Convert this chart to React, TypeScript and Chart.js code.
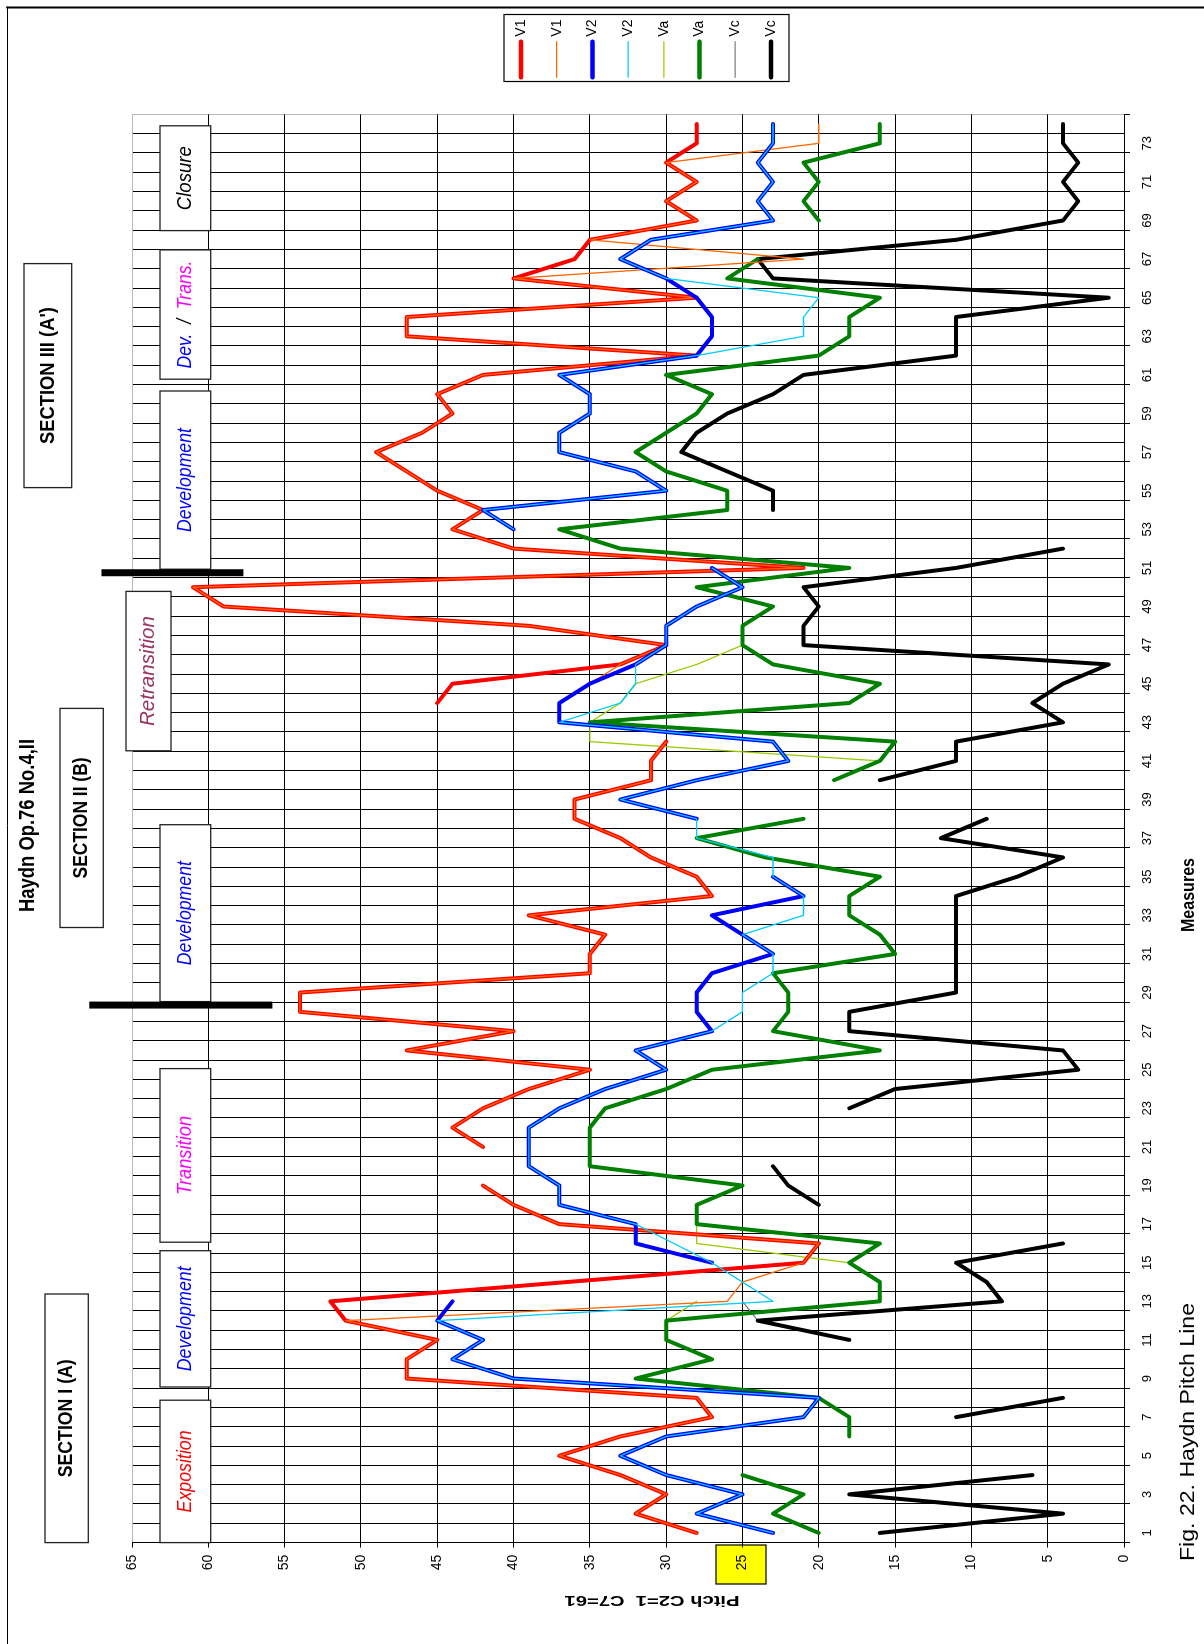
import React, { useEffect, useRef } from 'react';
import { Chart, registerables } from 'chart.js';

Chart.register(...registerables);

// ---------------- data ----------------
const measureLabels = [
  '1','2','3','4','5','6','7','8','9','10',
  '11','12','13','14','15','16','17','18','19','20',
  '21','22','23','24','25','26','27','28','29','30',
  '31','32','33','34','35','36','37','38','39','40',
  '41','42','43','44','45','46','47','48','49','50',
  '51','52','53','54','55','56','57','58','59','60',
  '61','62','63','64','65','66','67','68','69','70',
  '71','72','73','74'
];

const pitchMin = 0;
const pitchMax = 65;
const pitchStep = 5;

const v1Main = [
  28,32,30,33,37,33,27,28,47,47,
  45,51,52,36.5,21,20,37,40,42,null,
  42,44,42,39,35,47,40,54,54,35,
  35,34,39,27,28,31,33,36,36,31,
  31,30,null,45,44,33,30,39,59,61,
  21,40,44,42,45,47,49,46,44,45,
  42,28,47,47,28,40,36,35,28,30,
  28,30,28,28
];
const v1Alt = [
  28,32,30,33,37,33,27,28,47,47,
  45,51,26,25,21,20,37,40,42,null,
  42,44,42,39,35,47,40,54,54,35,
  35,34,39,27,28,31,33,36,36,31,
  31,30,null,37,35,33,30,39,59,61,
  21,40,44,42,45,47,49,46,44,45,
  42,28,47,47,28,40,21,35,28,30,
  28,30,20,20
];
const v2Main = [
  23,28,25,30,33,30,21,20,40,44,
  42,45,44,null,27,32,32,37,37,39,
  39,39,37,34,30,32,27,28,28,27,
  23,25,27,21,23,null,null,28,33,28,
  22,23,37,37,35,32,30,30,28,25,
  27,null,40,42,30,32,37,37,35,35,
  37,28,27,27,28,30,33,31,23,24,
  23,24,23,23
];
const v2Alt = [
  23,28,25,30,33,30,21,20,40,44,
  42,45,23,25,27,29.5,32,37,37,39,
  39,39,37,34,30,32,27,25,25,23,
  23,25,21,21,23,23,28,28,33,28,
  22,23,37,33,32,32,30,30,28,25,
  27,null,40,42,30,32,37,37,35,35,
  37,28,21,21,20,30,33,31,23,24,
  23,24,23,23
];
const vaMain = [
  20,23,21,25,null,18,18,20,32,27,
  30,30,16,16,18,16,28,28,25,35,
  35,35,34,30,27,16,23,22,22,23,
  15,16,18,18,16,23.5,28,21,null,19,
  16,15,35,18,16,23,25,25,23,28,
  18,33,37,26,26,30,32,30,28,27,
  30,20,18,18,16,26,24,null,20,21,
  20,21,16,16
];
const vaAlt = [
  20,23,21,25,null,18,18,20,32,27,
  30,30,28,null,18,28,28,28,25,35,
  35,35,34,30,27,16,23,22,22,23,
  15,16,18,18,16,23.5,28,21,null,19,
  16,35,35,33,32,28,25,25,23,28,
  18,33,37,26,26,30,32,30,28,27,
  30,20,18,18,16,26,24,null,20,21,
  20,21,16,16
];
const vcMain = [
  16,4,18,6,null,null,11,4,null,null,
  18,24,8,9,11,4,null,20,22,23,
  null,null,18,15,3,4,18,18,11,11,
  11,11,11,11,7,4,12,9,null,16,
  11,11,4,6,4,1,21,21,20,21,
  11,4,null,23,23,26,29,28,26,23,
  21,11,11,11,1,23,24,11,4,3,
  4,3,4,4
];
const vcAlt = [
  16,4,18,6,null,null,11,4,null,null,
  18,24,25,null,11,4,null,20,22,23,
  null,null,18,15,3,4,18,18,11,11,
  11,11,11,11,7,4,12,9,null,16,
  11,11,4,6,4,1,21,21,20,21,
  11,4,null,23,23,26,29,28,26,23,
  21,11,11,11,1,23,24,11,4,3,
  4,3,4,4
];

// section dividers (measure position, pitch span)
const dividerMeasures = [28.35, 50.75];
const dividerPitchFrom = [55.8, 57.7];
const dividerPitchTo = [67.8, 67.0];

// ---------------- layout (screen px) ----------------
const W = 1644; // canvas width (becomes screen height after rotation)
const H = 1204; // canvas height (becomes screen width)
const FONT = '"Liberation Sans", Arial, sans-serif';

type Part = { t: string; c: string };
type Box = { x0: number; x1: number; y0: number; y1: number; parts: Part[]; font: string; len: number };

const boxes: Box[] = [
  { x0: 24, x1: 71.7, y0: 263.6, y1: 487.6, parts: [{ t: "SECTION III (A')", c: '#000' }], font: `bold 21px ${FONT}`, len: 137 },
  { x0: 60, x1: 103.3, y0: 708.4, y1: 927.5, parts: [{ t: 'SECTION II (B)', c: '#000' }], font: `bold 21px ${FONT}`, len: 121 },
  { x0: 45, x1: 88.3, y0: 1294, y1: 1542.6, parts: [{ t: 'SECTION I (A)', c: '#000' }], font: `bold 21px ${FONT}`, len: 118 },
  { x0: 160, x1: 210.7, y0: 125.8, y1: 230.6, parts: [{ t: 'Closure', c: '#000' }], font: `italic 21px ${FONT}`, len: 64 },
  { x0: 160, x1: 210.7, y0: 249.9, y1: 379.2, parts: [{ t: 'Dev.', c: '#0000FF' }, { t: '  /  ', c: '#000' }, { t: 'Trans.', c: '#FF00FF' }], font: `italic 21px ${FONT}`, len: 108 },
  { x0: 160, x1: 210.7, y0: 391, y1: 569.2, parts: [{ t: 'Development', c: '#0000FF' }], font: `italic 21px ${FONT}`, len: 104 },
  { x0: 126, x1: 171, y0: 591.4, y1: 750.8, parts: [{ t: 'Retransition', c: '#993366' }], font: `italic 21px ${FONT}`, len: 110 },
  { x0: 160, x1: 210.7, y0: 824.7, y1: 1001.6, parts: [{ t: 'Development', c: '#0000FF' }], font: `italic 21px ${FONT}`, len: 104 },
  { x0: 160, x1: 210.7, y0: 1068.6, y1: 1242.2, parts: [{ t: 'Transition', c: '#FF00FF' }], font: `italic 21px ${FONT}`, len: 79 },
  { x0: 160, x1: 210.7, y0: 1250.7, y1: 1387, parts: [{ t: 'Development', c: '#0000FF' }], font: `italic 21px ${FONT}`, len: 105 },
  { x0: 160, x1: 210.7, y0: 1400.2, y1: 1542.6, parts: [{ t: 'Exposition', c: '#FF0000' }], font: `italic 21px ${FONT}`, len: 82 },
];

function drawParts(ctx: CanvasRenderingContext2D, parts: Part[], cx: number, cy: number, font: string, len: number, rot = 0) {
  ctx.save();
  ctx.font = font;
  const full = parts.map(p => p.t).join('');
  const w = ctx.measureText(full).width;
  const s = len / w;
  ctx.translate(cx, cy);
  if (rot) ctx.rotate(rot);
  ctx.scale(s, 1);
  ctx.textAlign = 'left';
  ctx.textBaseline = 'middle';
  let x = -w / 2;
  for (const p of parts) {
    ctx.fillStyle = p.c;
    ctx.fillText(p.t, x, 0);
    x += ctx.measureText(p.t).width;
  }
  ctx.restore();
}

const overlay = {
  id: 'overlay',
  beforeDraw(chart: any) {
    const ctx: CanvasRenderingContext2D = chart.ctx;
    ctx.save();
    ctx.fillStyle = '#fff';
    ctx.fillRect(0, 0, W, H);
    // yellow box behind the "25" tick label (screen x 716-766, y 1545-1584)
    ctx.fillStyle = '#FFFF00';
    ctx.fillRect(W - 1584, 716, 39, 50);
    ctx.strokeStyle = '#000';
    ctx.lineWidth = 1.2;
    ctx.strokeRect(W - 1584, 716, 39, 50);
    ctx.restore();
  },
  afterDraw(chart: any) {
    const ctx: CanvasRenderingContext2D = chart.ctx;
    const xs = chart.scales.x;
    const ys = chart.scales.y;
    ctx.save();

    // annotation boxes
    for (const b of boxes) {
      const u0 = W - b.y1, u1 = W - b.y0;
      ctx.fillStyle = '#fff';
      ctx.fillRect(u0, b.x0, u1 - u0, b.x1 - b.x0);
      ctx.strokeStyle = '#222';
      ctx.lineWidth = 1.3;
      ctx.strokeRect(u0, b.x0, u1 - u0, b.x1 - b.x0);
      drawParts(ctx, b.parts, (u0 + u1) / 2, (b.x0 + b.x1) / 2, b.font, b.len);
    }

    // section dividers
    ctx.fillStyle = '#000';
    for (let i = 0; i < dividerMeasures.length; i++) {
      const u = xs.getPixelForValue(dividerMeasures[i] - 1);
      const va = ys.getPixelForValue(dividerPitchTo[i]);
      const vb = ys.getPixelForValue(dividerPitchFrom[i]);
      ctx.fillRect(u - 3.5, va, 7, vb - va);
    }

    // legend
    const lu0 = W - 81.5, lu1 = W - 14.5;
    ctx.fillStyle = '#fff';
    ctx.fillRect(lu0, 504, lu1 - lu0, 285);
    ctx.strokeStyle = '#000';
    ctx.lineWidth = 1.2;
    ctx.strokeRect(lu0, 504, lu1 - lu0, 285);
    const ds = chart.data.datasets;
    for (let i = 0; i < ds.length; i++) {
      const v = 521 + i * 35.7;
      ctx.strokeStyle = ds[i].borderColor;
      ctx.lineWidth = ds[i].borderWidth > 2 ? 4.5 : 1.2;
      ctx.lineCap = 'round';
      ctx.beginPath();
      ctx.moveTo(W - 77.3, v);
      ctx.lineTo(W - 41.7, v);
      ctx.stroke();
      ctx.fillStyle = '#000';
      ctx.font = `14px ${FONT}`;
      ctx.textAlign = 'left';
      ctx.textBaseline = 'middle';
      ctx.fillText(ds[i].label, W - 36.7, v);
    }

    // titles
    drawParts(ctx, [{ t: 'Haydn Op.76 No.4,II', c: '#000' }], W - 825.5, 28, `bold 22px ${FONT}`, 173);
    drawParts(ctx, [{ t: 'Measures', c: '#000' }], W - 895, 1189, `bold 18px ${FONT}`, 74);
    drawParts(ctx, [{ t: 'Fig. 22. Haydn Pitch Line', c: '#000' }], W - 1432, 1188, `21px ${FONT}`, 258);
    drawParts(ctx, [{ t: 'Pitch C2=1  C7=61', c: '#000' }], W - 1600, 652, `bold 15px ${FONT}`, 175, -Math.PI / 2);

    // outer frame (top and left edges)
    ctx.strokeStyle = '#000';
    ctx.lineWidth = 2;
    ctx.beginPath();
    ctx.moveTo(W - 7.5, 7);
    ctx.lineTo(W - 7.5, H);
    ctx.stroke();
    ctx.lineWidth = 1;
    ctx.beginPath();
    ctx.moveTo(0, 7.5);
    ctx.lineTo(W - 7, 7.5);
    ctx.stroke();

    ctx.restore();
  },
};

function line(label: string, data: (number | null)[], color: string, width: number, order: number) {
  return {
    label,
    data,
    borderColor: color,
    backgroundColor: color,
    borderWidth: width,
    pointRadius: 0,
    pointHoverRadius: 0,
    tension: 0,
    fill: false,
    spanGaps: false,
    borderJoinStyle: 'round',
    borderCapStyle: 'round',
    order,
  };
}

export default function App() {
  const ref = useRef<HTMLCanvasElement>(null);
  useEffect(() => {
    const canvas = ref.current;
    if (!canvas) return;
    const chart = new Chart(canvas, {
      type: 'line',
      data: {
        labels: measureLabels,
        datasets: [
          line('V1', v1Main, '#FF0000', 4, 3),
          line('V1', v1Alt, '#FF6600', 1.3, 2),
          line('V2', v2Main, '#0000FF', 4, 1),
          line('V2', v2Alt, '#00CCFF', 1.3, 0),
          line('Va', vaAlt, '#99CC00', 1.3, 5),
          line('Va', vaMain, '#008000', 4, 4),
          line('Vc', vcAlt, '#808080', 1.3, 7),
          line('Vc', vcMain, '#000000', 4, 6),
        ] as any,
      },
      options: {
        responsive: false,
        animation: false,
        devicePixelRatio: 1,
        events: [],
        layout: { padding: { left: 0, right: 114.35, top: 132, bottom: 0 } },
        plugins: { legend: { display: false }, tooltip: { enabled: false }, title: { display: false } },
        scales: {
          x: {
            type: 'category',
            offset: true,
            grid: {
              offset: true,
              color: (c: any) => (c.index === undefined ? '#b8b8b8' : '#000'),
              lineWidth: 1,
              tickLength: 6,
              tickColor: (c: any) => (c.index === undefined || c.index % 2 === 0 ? '#000' : 'rgba(0,0,0,0)'),
            },
            border: { color: '#000', width: 1 },
            ticks: {
              autoSkip: false,
              maxRotation: 0,
              minRotation: 0,
              padding: 10,
              color: '#000',
              font: { family: FONT, size: 13 },
              callback: (_v: any, i: number) => (i % 2 === 0 ? measureLabels[i] : ''),
            },
            afterFit: (s: any) => { s.height = 80; },
          },
          y: {
            type: 'linear',
            min: pitchMin,
            max: pitchMax,
            grid: {
              color: (c: any) => (c.tick && c.tick.value === pitchMax ? '#b8b8b8' : '#000'),
              lineWidth: 1,
              tickLength: 5,
              tickColor: '#000',
            },
            border: { color: '#000', width: 1 },
            ticks: {
              stepSize: pitchStep,
              padding: 7,
              color: '#000',
              font: { family: FONT, size: 14 },
            },
            afterFit: (s: any) => { s.width = 101.4; },
          },
        },
      } as any,
      plugins: [overlay as any],
    });
    return () => chart.destroy();
  }, []);

  return (
    <div style={{ position: 'absolute', left: 0, top: 0, width: 1204, height: 1644, overflow: 'hidden', background: '#fff' }}>
      <canvas
        ref={ref}
        width={W}
        height={H}
        style={{
          position: 'absolute',
          left: 0,
          top: 0,
          width: W,
          height: H,
          transformOrigin: '0 0',
          transform: `translate(0px, ${W}px) rotate(-90deg)`,
        }}
      />
    </div>
  );
}
